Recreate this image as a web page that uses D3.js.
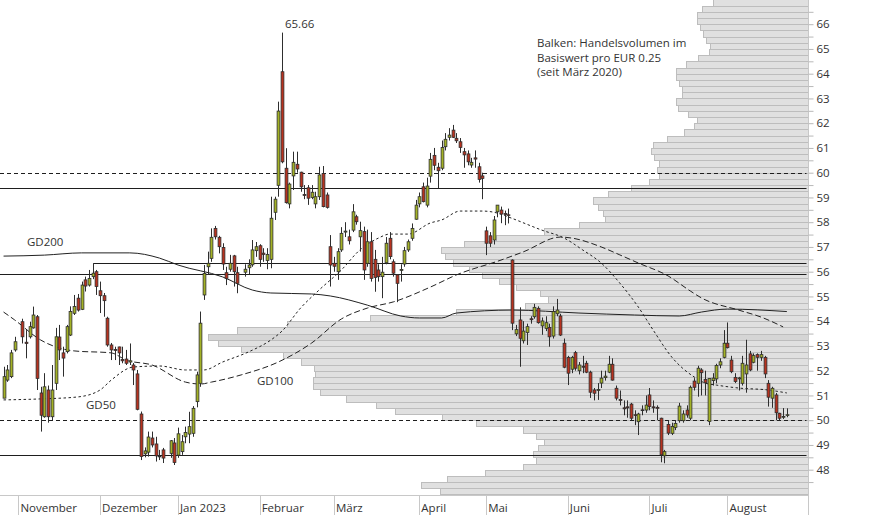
<!DOCTYPE html>
<html><head><meta charset="utf-8">
<script src="https://cdn.jsdelivr.net/npm/d3@7/dist/d3.min.js"></script>
<style>
html,body{margin:0;padding:0;background:#fff;}
svg{display:block;font-family:"Open Sans",sans-serif;}
</style></head><body>
<svg id="chart" width="874" height="515"></svg>
<script>
// ---------- DATA ----------
const startDate = "2022-10-26";
const endDate = "2023-08-23";
const holidays = ["2022-12-26","2023-04-07","2023-04-10","2023-05-01"];
const monthLabels = ["November","Dezember","Jan 2023","Februar","März","April","Mai","Juni","Juli","August"];
const monthStarts = ["2022-11","2022-12","2023-01","2023-02","2023-03","2023-04","2023-05","2023-06","2023-07","2023-08"];

const open = [50.89,51.62,51.76,52.84,null,53.98,53.15,53.37,53.73,54.18,51.10,50.14,51.22,50.14,51.49,53.36,52.72,52.77,53.44,54.32,
54.93,54.48,55.67,55.46,55.80,56.00,55.23,55.03,54.12,53.04,52.86,52.96,52.45,52.47,52.35,52.23,51.87,50.25,48.64,48.71,
49.28,49.04,48.55,48.80,null,48.66,49.08,48.59,48.73,49.33,49.44,49.47,50.75,51.49,55.06,56.20,56.54,57.75,57.39,56.98,
55.96,56.10,56.64,55.96,null,55.98,56.16,56.28,56.85,57.05,56.75,56.45,56.50,58.40,59.49,64.08,60.18,58.74,59.87,60.34,
60.02,59.12,59.39,59.00,58.74,59.03,59.97,59.10,57.01,56.34,56.00,56.88,57.60,57.41,57.68,58.22,57.41,57.62,56.34,57.21,
56.50,56.07,55.80,56.36,57.35,56.40,55.87,56.05,56.31,56.88,57.35,58.12,58.74,59.43,58.69,59.86,60.70,60.22,60.18,61.05,
61.43,61.72,61.39,61.25,60.85,60.76,60.31,60.60,60.24,59.87,57.65,57.45,57.28,58.42,58.49,58.35,58.30,56.47,53.49,54.05,
53.21,53.54,54.10,54.18,54.52,53.81,53.71,53.75,53.40,54.30,54.21,53.11,52.54,52.06,52.73,52.00,52.18,52.30,51.94,51.22,
51.20,51.50,51.72,51.94,52.26,51.29,50.84,50.50,50.54,50.65,50.22,49.94,50.42,50.41,51.02,50.54,50.52,50.08,48.56,49.83,
49.47,49.71,49.98,49.98,50.41,50.08,51.58,51.49,52.03,51.65,49.95,51.60,51.67,52.23,52.54,53.11,52.43,51.73,51.67,51.49,
51.87,52.68,52.34,52.65,52.54,52.54,51.49,50.89,51.02,50.28,50.12,50.20];
const high = [52.16,52.23,52.84,53.37,null,54.10,53.64,53.98,54.59,54.25,51.35,51.90,51.40,52.23,53.73,53.85,52.97,53.85,54.60,55.06,
55.10,55.60,55.80,56.07,56.34,56.07,55.60,55.14,54.18,53.12,52.97,52.97,52.97,52.84,53.10,52.31,52.03,50.35,48.90,49.54,
49.54,49.33,48.80,48.88,null,49.20,49.28,49.70,49.40,49.74,50.34,50.57,51.96,54.39,56.27,56.81,57.75,57.85,57.45,57.15,
56.20,56.68,56.68,56.20,null,56.30,56.50,57.28,57.20,57.11,56.95,56.95,59.03,59.03,62.87,65.66,60.99,59.60,60.85,60.85,
60.04,59.50,59.50,59.50,59.23,60.24,60.27,59.20,57.48,56.60,56.95,57.80,58.00,57.70,58.73,58.30,58.02,57.82,57.70,57.60,
56.88,56.30,56.60,57.40,57.60,56.50,55.90,56.30,57.00,57.30,57.95,58.90,59.20,59.60,59.80,60.80,61.00,60.40,61.30,61.60,
61.80,61.93,61.60,61.40,61.00,60.90,60.60,60.90,60.40,60.00,57.82,57.60,58.25,58.69,58.63,58.47,58.55,56.50,53.85,54.56,
54.00,53.90,54.20,54.70,54.60,54.15,54.20,53.90,54.60,54.90,54.30,53.30,52.60,52.60,52.80,52.35,52.60,52.40,52.00,51.30,
51.50,52.00,52.00,52.60,52.50,51.40,51.20,50.80,50.80,50.70,50.40,50.30,50.60,51.00,51.30,50.80,50.60,50.10,48.80,50.00,
49.90,50.00,50.70,50.40,50.60,51.40,51.70,52.20,52.10,52.00,51.70,51.90,52.28,52.50,53.64,53.95,52.60,51.90,51.75,52.60,
53.25,52.80,52.70,52.70,52.80,52.60,51.62,51.35,51.10,50.30,50.49,50.48];
const low = [50.89,51.55,51.70,52.77,null,53.10,52.50,53.30,53.70,51.22,49.54,50.10,49.90,50.00,51.22,52.43,51.76,52.70,53.40,54.25,
54.39,54.45,55.20,55.40,55.70,55.06,54.33,54.18,52.97,52.43,52.43,52.23,52.30,52.23,52.23,51.42,50.40,48.39,48.50,48.53,
48.90,48.33,48.39,48.27,null,48.48,48.19,48.48,48.60,49.07,49.07,49.33,50.52,51.35,54.86,55.87,56.40,57.30,56.74,56.07,
55.46,56.00,55.40,55.13,null,55.80,55.90,56.20,56.60,56.20,56.40,56.10,56.14,58.09,59.03,60.38,58.75,58.56,59.30,60.00,
59.23,58.93,58.70,58.93,58.56,58.90,58.60,58.55,55.40,56.00,55.67,56.80,57.40,57.10,57.60,57.90,56.81,55.67,56.20,55.60,
55.19,55.60,54.93,56.30,56.50,55.80,54.77,55.60,56.20,56.80,57.25,58.10,58.60,58.80,58.60,59.60,60.10,59.37,60.10,60.90,
61.30,61.40,61.20,60.80,60.20,60.30,60.20,60.20,59.60,58.93,56.67,57.00,57.10,58.20,57.96,57.88,57.95,53.64,53.40,52.16,
53.10,53.04,53.90,54.10,53.90,53.45,53.60,52.97,53.30,54.20,53.40,52.10,51.42,51.90,52.00,51.85,51.90,51.90,50.90,50.80,
50.82,51.30,51.60,51.90,51.60,50.80,50.60,50.20,50.10,50.00,49.80,49.40,50.20,50.30,50.40,50.30,50.00,48.30,48.26,49.40,
49.40,49.60,49.90,49.90,50.10,50.00,51.20,50.95,51.00,51.00,49.80,51.40,51.49,52.10,52.50,52.90,51.90,51.50,51.20,51.40,
51.11,51.98,52.30,52.00,52.40,51.70,50.55,50.50,50.00,50.00,50.05,50.12];
const close = [51.76,52.03,52.72,53.17,null,53.37,53.10,53.78,54.25,51.69,50.20,51.35,50.14,51.22,53.37,52.84,52.51,53.78,54.39,54.59,
54.45,55.46,55.42,55.73,55.94,55.40,55.03,54.83,53.04,52.84,52.82,52.72,52.40,52.30,52.40,52.03,50.44,48.53,48.76,49.32,
49.00,48.56,48.52,48.47,null,49.17,48.29,49.45,49.13,49.50,49.74,50.48,51.83,53.92,55.93,56.34,57.39,57.41,57.01,56.31,
55.73,56.34,56.00,55.53,null,56.10,56.27,56.88,57.01,56.50,56.70,56.70,58.16,58.93,62.49,60.44,58.79,59.54,60.42,60.15,
59.43,59.08,58.97,59.21,59.03,59.91,58.63,58.60,56.27,56.22,56.81,57.55,57.64,57.25,58.42,58.02,57.66,56.07,57.21,55.73,
55.77,55.80,55.98,57.15,56.61,55.94,55.53,56.09,56.85,57.21,57.75,58.69,59.03,58.83,59.46,60.54,60.30,60.08,61.02,61.35,
61.52,61.43,61.29,61.02,60.72,60.44,60.42,60.55,59.73,59.77,57.15,57.15,58.09,58.69,58.33,58.31,58.28,53.92,53.66,53.31,
53.60,53.78,54.06,54.56,53.94,54.01,53.94,53.37,54.39,54.45,53.44,52.14,51.90,52.54,52.10,52.23,52.14,51.94,51.13,51.09,
51.24,51.70,51.78,52.26,51.62,50.89,50.80,50.46,50.50,50.08,50.20,50.25,50.40,50.61,50.55,50.50,50.48,48.60,48.73,49.48,
49.75,49.87,50.57,50.25,50.21,51.33,51.33,52.10,51.92,51.51,51.69,51.70,52.21,52.36,53.11,52.93,51.96,51.56,51.71,52.30,
52.23,52.03,52.61,52.54,52.65,51.87,50.93,51.29,50.30,50.08,50.15,50.22];

// moving averages: [trading-day index, value]
const gd200 = [[0,56.63],[11,56.67],[21,56.76],[34,56.76],[42,56.55],[47,56.27],[59,55.79],[67,55.26],[72,55.14],[83,55.10],[88,55.02],
[98,54.65],[107,54.21],[112,54.13],[118,54.13],[122,54.33],[137,54.45],[155,54.33],[170,54.25],[182,54.21],[188,54.37],[195,54.49],[211,54.39]];
const gd100 = [[0,54.37],[3,54.05],[10,53.24],[19,52.80],[29,52.72],[33,52.43],[40,52.23],[49,51.54],[53,51.46],[56,51.54],[64,51.83],
[74,52.35],[83,53.12],[91,54.09],[98,54.53],[105,54.78],[115,55.38],[122,55.87],[134,56.47],[140,56.80],[150,57.40],[153,57.36],
[161,57.00],[166,56.68],[171,56.35],[179,55.83],[185,55.22],[188,54.94],[198,54.45],[204,54.17],[210,53.77]];
const gd50 = [[0,50.82],[10,50.86],[20,50.94],[26,51.22],[29,51.62],[35,52.15],[42,52.19],[49,52.03],[54,52.03],[59,52.35],[66,52.76],
[72,53.24],[75,53.60],[80,54.53],[85,55.26],[91,56.07],[96,56.88],[101,57.36],[104,57.52],[109,57.52],[115,57.97],[118,58.09],
[123,58.45],[129,58.45],[133,58.37],[136,58.21],[145,57.68],[151,57.36],[156,56.88],[161,56.35],[166,55.54],[171,54.57],[175,53.64],
[180,52.55],[186,51.75],[189,51.50],[192,51.42],[198,51.30],[206,51.22],[211,51.10]];

// horizontal levels
const solidLevels = [59.37, 55.90, 48.58];
const dashedLevels = [60.00, 50.00];
const bracketLevel = {price: 56.34, fromIndex: 24, toPrice: 55.90};
const highMark = {index: 75, price: 65.66, label: "65.66"};

// volume profile (per EUR 0.25 bin, lowest bin starts at 47.00)
const binStart = 47.00, binSize = 0.25;
const volume = [369,388,362,324,286,273,276,271,265,273,286,333,367,414,433,463,489,496,496,494,
495,508,526,569,592,602,573,522,439,353,284,261,269,293,310,327,340,356,364,368,
345,313,265,230,204,206,211,216,201,177,159,149,151,149,154,157,155,141,124,114,
111,120,130,132,126,126,129,132,132,122,110,99,98,102,105,108,111,111,106,95];

const yTicks = [48,49,50,51,52,53,54,55,56,57,58,59,60,61,62,63,64,65,66];
const noteLines = ["Balken: Handelsvolumen im","Basiswert pro EUR 0.25","(seit März 2020)"];

// ---------- CHART ----------
const svg = d3.select("#chart");
const plotRight = 808, plotBottom = 495;
const fmt = d3.utcFormat("%Y-%m-%d");
const days = [];
for (let d = new Date(startDate+"T00:00:00Z"); d <= new Date(endDate+"T00:00:00Z"); d = d3.utcDay.offset(d,1)) {
  const wd = d.getUTCDay();
  if (wd===0 || wd===6) continue;
  if (holidays.includes(fmt(d))) continue;
  days.push(d);
}
const x = d3.scaleBand().domain(d3.range(days.length)).range([1.7, 788.7]).paddingInner(0);
const cx = i => x(i) + x.bandwidth()/2;
const y = d3.scaleLinear().domain([47,67]).range([494.45,-0.55]);
const vx = d3.scaleLinear().domain([0,602]).range([0,600.3]);
const crisp = v => Math.round(v)+0.5;

svg.append("defs").append("clipPath").attr("id","plot")
  .append("rect").attr("x",0).attr("y",0).attr("width",plotRight).attr("height",plotBottom);

const g = svg.append("g").attr("clip-path","url(#plot)");

// volume profile bars
const maxV = d3.max(volume);
g.append("g").selectAll("rect").data(volume).join("rect")
  .attr("x", v => Math.round(plotRight - vx(v)) + 0.5)
  .attr("y", (v,k) => Math.round(y(binStart + (k+1)*binSize)) + 0.5)
  .attr("width", v => Math.round(vx(v)) + 2)
  .attr("height", (v,k) => Math.round(y(binStart + k*binSize)) - Math.round(y(binStart + (k+1)*binSize)))
  .attr("fill", v => v === maxV ? "#d5d5d5" : "#e0e0e0")
  .attr("stroke", "#bdbdbd").attr("stroke-width",1);

// horizontal levels
g.append("g").selectAll("line").data(solidLevels).join("line")
  .attr("x1",0).attr("x2",plotRight-1.5)
  .attr("y1",p=>crisp(y(p))).attr("y2",p=>crisp(y(p)))
  .attr("stroke","#1e1e1e").attr("stroke-width",1);
g.append("g").selectAll("line").data(dashedLevels).join("line")
  .attr("x1",0).attr("x2",plotRight-1.5)
  .attr("y1",p=>crisp(y(p))).attr("y2",p=>crisp(y(p)))
  .attr("stroke","#1e1e1e").attr("stroke-width",1).attr("stroke-dasharray","4,3");
const bx = crisp(cx(bracketLevel.fromIndex));
g.append("path")
  .attr("d",`M${bx},${crisp(y(bracketLevel.toPrice))}V${crisp(y(bracketLevel.price))}H${plotRight-1.5}`)
  .attr("fill","none").attr("stroke","#1e1e1e").attr("stroke-width",1);

// moving averages
const maLine = d3.line().x(d=>cx(d[0])).y(d=>y(d[1])).curve(d3.curveMonotoneX);
g.append("path").attr("d",maLine(gd200)).attr("fill","none").attr("stroke","#222").attr("stroke-width",1);
g.append("path").attr("d",maLine(gd100)).attr("fill","none").attr("stroke","#222").attr("stroke-width",1).attr("stroke-dasharray","6,3");
g.append("path").attr("d",maLine(gd50)).attr("fill","none").attr("stroke","#222").attr("stroke-width",1).attr("stroke-dasharray","2.5,2.5");

// candles
const candles = d3.range(days.length).filter(i => open[i] != null)
  .map(i => ({i, o:open[i], h:high[i], l:low[i], c:close[i]}));
const cg = g.append("g");
cg.selectAll("line").data(candles).join("line")
  .attr("x1",d=>crisp(cx(d.i))).attr("x2",d=>crisp(cx(d.i)))
  .attr("y1",d=>y(d.h)).attr("y2",d=>y(d.l))
  .attr("stroke","#2e2e2e").attr("stroke-width",1);
cg.selectAll("rect").data(candles).join("rect")
  .attr("x",d=>crisp(cx(d.i))-1.4)
  .attr("y",d=>y(Math.max(d.o,d.c)))
  .attr("width",2.8)
  .attr("height",d=>Math.max(0.8, Math.abs(y(d.o)-y(d.c))))
  .attr("fill",d=>d.c>=d.o ? "#a3b225" : "#b8321f")
  .attr("stroke","#2e2e2e").attr("stroke-width",0.8);

// texts
const textColor = "#333";
svg.append("text").attr("x",cx(highMark.index)+3).attr("y",y(highMark.price)-5)
  .attr("font-size",11.5).attr("fill",textColor).text(highMark.label);
svg.append("g").selectAll("text").data(noteLines).join("text")
  .attr("x",537).attr("y",(d,k)=>47+k*14.5)
  .attr("font-size",11.5).attr("fill",textColor).text(d=>d);
svg.append("text").attr("x",27).attr("y",245.5).attr("font-size",11.5).attr("fill",textColor).text("GD200");
svg.append("text").attr("x",257).attr("y",384.5).attr("font-size",11.5).attr("fill",textColor).text("GD100");
svg.append("text").attr("x",86).attr("y",408.5).attr("font-size",11.5).attr("fill",textColor).text("GD50");

// y axis (right)
svg.append("line").attr("x1",plotRight+0.5).attr("x2",plotRight+0.5).attr("y1",0).attr("y2",515)
  .attr("stroke","#c8c8c8");
const yAxis = d3.axisRight(y).tickValues(d3.range(47.5,67,0.5)).tickSize(5)
  .tickFormat(v => yTicks.includes(v) ? String(v) : "");
const ya = svg.append("g").attr("transform",`translate(${plotRight+0.5},0)`).call(yAxis);
ya.select(".domain").remove();
ya.selectAll(".tick line").attr("stroke","#b8b8b8");
ya.selectAll(".tick text").attr("x",8).attr("font-size",11.5).attr("font-family","Open Sans").attr("fill",textColor);

// x axis
svg.append("line").attr("x1",0).attr("x2",plotRight).attr("y1",plotBottom+0.5).attr("y2",plotBottom+0.5).attr("stroke","#c8c8c8");
const monthIdx = monthStarts.map(m => days.findIndex(d => fmt(d).startsWith(m)));
const xg = svg.append("g");
xg.selectAll("line").data(monthIdx).join("line")
  .attr("x1",i=>crisp(cx(i))).attr("x2",i=>crisp(cx(i)))
  .attr("y1",plotBottom).attr("y2",515).attr("stroke","#c8c8c8");
xg.selectAll("text").data(monthIdx).join("text")
  .attr("x",i=>cx(i)+2).attr("y",511.5)
  .attr("font-size",11.5).attr("fill",textColor).text((i,k)=>monthLabels[k]);
</script>
</body></html>
